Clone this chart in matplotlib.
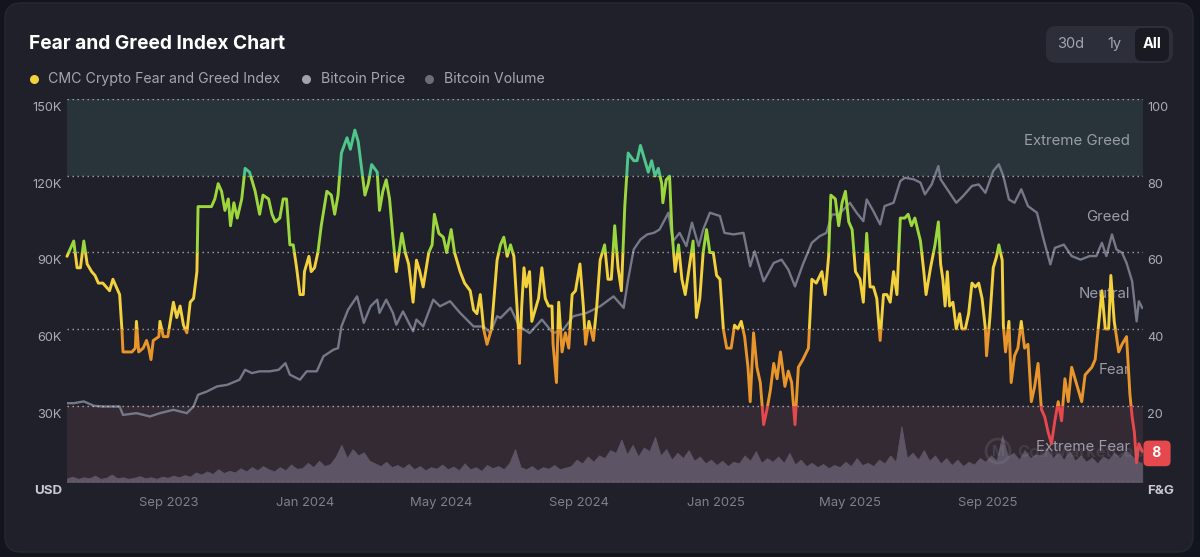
import numpy as np
import pandas as pd
import matplotlib
matplotlib.use("Agg")
import matplotlib.pyplot as plt
from matplotlib.patches import FancyBboxPatch, Rectangle, Circle
from matplotlib.lines import Line2D
from matplotlib.transforms import blended_transform_factory, offset_copy

plt.rcParams['font.family'] = ['Inter', 'DejaVu Sans']

# ---- data ----
START = pd.Timestamp('2023-06-02')
END_DAY = 960.7

fg_days = [0, 3, 6, 9, 12, 15, 18, 22, 25, 28, 32, 35, 38, 41, 44, 47, 49, 50, 53, 58,
           61, 62, 64, 68, 71, 73, 75, 77, 82, 83, 86, 90, 95, 98, 101, 104, 107, 110, 113, 116,
           117, 120, 125, 129, 132, 135, 138, 141, 144, 146, 149, 152, 156, 159, 163, 168, 172, 175, 180, 183,
           186, 190, 193, 196, 199, 202, 205, 208, 211, 212, 216, 218, 221, 224, 227, 232, 236, 239, 242, 245,
           250, 253, 257, 260, 263, 266, 269, 272, 277, 279, 282, 285, 288, 291, 294, 299, 302, 305, 309, 312,
           315, 318, 323, 326, 328, 332, 336, 339, 343, 346, 351, 355, 360, 363, 366, 369, 372, 375, 379, 384,
           387, 390, 393, 396, 399, 403, 404, 406, 408, 410, 413, 415, 418, 421, 424, 427, 430, 433, 434, 437,
           439, 442, 445, 448, 451, 454, 458, 461, 463, 466, 470, 473, 476, 480, 483, 486, 489, 492, 495, 498,
           501, 506, 509, 512, 516, 519, 522, 525, 528, 531, 532, 535, 538, 540, 543, 546, 549, 552, 555, 559,
           562, 565, 568, 571, 574, 577, 580, 583, 586, 589, 593, 596, 599, 602, 605, 608, 610, 613, 616, 619,
           622, 625, 628, 631, 634, 637, 641, 644, 647, 650, 653, 657, 662, 665, 669, 674, 677, 680, 682, 686,
           689, 692, 695, 698, 701, 704, 708, 711, 714, 717, 720, 723, 726, 729, 732, 735, 738, 741, 744, 748,
           751, 754, 757, 762, 765, 767, 771, 775, 778, 780, 782, 784, 786, 788, 791, 794, 797, 799, 802, 805,
           808, 811, 814, 817, 820, 821, 824, 827, 830, 832, 835, 836, 838, 841, 843, 846, 849, 852, 855, 858,
           861, 864, 867, 870, 873, 876, 879, 882, 885, 888, 891, 894, 897, 900, 903, 906, 909, 912, 915, 918,
           921, 924, 927, 930, 932, 935, 939, 942, 946, 949, 951, 953, 955, 957, 960]
fg_values = [59, 61, 63, 56, 56, 63, 57, 55, 54, 52, 52, 51, 50, 53, 51, 49, 40, 34, 34, 34,
             35, 42, 34, 35, 37, 35, 32, 37, 38, 42, 38, 38, 47, 43, 46, 41, 39, 47, 48, 55,
             72, 72, 72, 72, 74, 78, 76, 71, 74, 67, 73, 69, 74, 82, 81, 76, 70, 75, 74, 70,
             68, 69, 74, 74, 62, 62, 56, 49, 49, 55, 59, 55, 56, 60, 67, 76, 75, 70, 75, 86,
             90, 87, 92, 89, 82, 75, 78, 83, 81, 71, 76, 79, 74, 64, 55, 65, 60, 57, 47, 58,
             55, 51, 60, 62, 70, 65, 64, 60, 66, 60, 55, 52, 50, 45, 44, 49, 40, 36, 40, 58,
             62, 64, 59, 62, 59, 40, 31, 46, 56, 51, 55, 42, 45, 48, 56, 48, 46, 46, 36, 26,
             47, 34, 39, 35, 49, 50, 57, 46, 36, 42, 37, 46, 58, 62, 53, 53, 67, 56, 50, 72,
             86, 84, 84, 88, 84, 81, 84, 80, 82, 78, 73, 79, 80, 66, 55, 62, 53, 49, 55, 63,
             43, 48, 60, 66, 60, 60, 54, 53, 40, 35, 35, 41, 40, 42, 38, 30, 21, 39, 30, 26,
             15, 19, 24, 31, 27, 34, 25, 29, 26, 15, 30, 32, 35, 53, 52, 55, 49, 59, 75, 74,
             67, 73, 76, 68, 66, 55, 53, 47, 65, 51, 51, 48, 37, 49, 49, 47, 55, 49, 69, 69,
             70, 67, 69, 63, 55, 49, 56, 62, 68, 57, 53, 46, 55, 46, 47, 40, 44, 40, 40, 44,
             52, 51, 52, 48, 40, 33, 43, 56, 59, 62, 58, 41, 34, 42, 26, 33, 35, 42, 35, 36,
             21, 25, 31, 19, 17, 13, 10, 16, 21, 16, 27, 21, 30, 27, 24, 21, 28, 29, 30, 32,
             41, 50, 40, 40, 54, 42, 34, 36, 38, 23, 17, 13, 5, 10, 8]

price_days = [0, 6, 15, 24, 32, 47, 50, 62, 74, 83, 95, 107, 113, 117, 125, 134, 143, 154, 159, 165,
              172, 181, 189, 195, 199, 208, 214, 223, 229, 238, 242, 245, 251, 259, 265, 271, 277, 279, 285, 291,
              294, 300, 309, 312, 318, 327, 333, 342, 351, 363, 372, 378, 384, 387, 396, 404, 413, 424, 434, 443,
              452, 464, 476, 488, 497, 501, 506, 512, 518, 524, 529, 537, 541, 547, 553, 558, 564, 568, 574, 583,
              587, 595, 604, 610, 614, 622, 631, 638, 644, 650, 657, 665, 672, 678, 683, 689, 695, 699, 705, 711,
              714, 720, 726, 730, 738, 744, 748, 756, 762, 766, 772, 778, 780, 785, 790, 794, 800, 808, 814, 820,
              827, 832, 836, 841, 846, 852, 858, 866, 872, 878, 882, 890, 897, 905, 913, 919, 924, 928, 933, 937,
              942, 946, 951, 955, 957, 960]
price_k = [30.9, 30.9, 31.6, 29.9, 29.6, 29.6, 26.3, 27.0, 25.7, 27.0, 28.3, 27.0, 29.6, 34.2, 35.5, 37.5, 38.1, 40.1, 44.0, 42.7,
           43.4, 43.4, 44.0, 46.6, 42.1, 40.1, 43.4, 43.4, 49.3, 51.9, 52.5, 61.0, 67.6, 72.8, 62.4, 68.9, 71.5, 66.3, 71.5, 66.3,
           61.7, 66.9, 59.1, 63.7, 61.0, 71.5, 68.9, 70.9, 66.3, 61.0, 61.0, 58.4, 65.0, 64.3, 68.3, 61.0, 58.4, 63.7, 58.4, 59.7,
           65.0, 66.3, 68.9, 72.8, 68.3, 79.4, 91.2, 95.1, 97.1, 97.7, 99.0, 105.6, 94.4, 97.7, 92.5, 101.7, 92.5, 99.0, 105.6, 104.3,
           97.7, 97.1, 97.7, 84.6, 90.5, 78.7, 85.9, 87.2, 83.3, 76.7, 85.3, 93.8, 96.4, 97.7, 104.9, 104.9, 107.6, 109.5, 105.6, 102.3,
           110.8, 106.2, 101.0, 108.2, 109.5, 118.0, 119.3, 118.7, 117.4, 112.8, 116.7, 123.9, 118.7, 115.4, 112.1, 109.5, 112.1, 116.1, 116.7, 113.4,
           122.0, 124.6, 120.0, 110.8, 109.5, 114.8, 108.2, 105.6, 95.1, 85.3, 91.8, 93.1, 88.6, 87.2, 88.6, 88.6, 93.8, 88.6, 97.1, 91.2,
           89.9, 85.9, 78.7, 63.0, 70.9, 68.3]

# volume in $B, one value every 5 days from START
vol_step = 5
vol_b = [7, 10, 6, 9, 7, 12, 6, 8, 14, 7, 9, 6, 8, 11, 7, 9, 6, 10,
         8, 12, 9, 13, 10, 18, 14, 20, 15, 24, 17, 21, 18, 26, 20, 28, 22, 30,
         24, 20, 28, 22, 33, 25, 26, 36, 28, 40, 30, 34, 48, 70, 45, 62, 50, 56,
         40, 35, 30, 38, 28, 32, 26, 34, 24, 30, 22, 28, 25, 33, 24, 29, 22, 35,
         24, 28, 21, 32, 26, 30, 24, 36, 62, 28, 24, 30, 22, 28, 25, 32, 24, 27,
         30, 42, 35, 48, 38, 50, 45, 60, 55, 80, 52, 70, 48, 65, 58, 85, 50, 62,
         42, 55, 45, 60, 40, 48, 35, 42, 32, 40, 30, 38, 35, 50, 40, 58, 36, 45,
         38, 48, 36, 55, 33, 42, 30, 36, 28, 34, 26, 32, 28, 38, 30, 45, 32, 36,
         30, 42, 35, 50, 38, 105, 45, 55, 42, 60, 40, 50, 35, 45, 32, 42, 30, 38,
         33, 45, 38, 50, 40, 88, 48, 55, 42, 60, 45, 52, 50, 62, 45, 55, 42, 58,
         40, 50, 38, 46, 35, 48, 42, 55, 45, 60, 50, 40, 35]

month_ticks = ['2023-09-01', '2024-01-01', '2024-05-01', '2024-09-01',
               '2025-01-01', '2025-05-01', '2025-09-01']
month_labels = ['Sep 2023', 'Jan 2024', 'May 2024', 'Sep 2024',
                'Jan 2025', 'May 2025', 'Sep 2025']
price_ticks = [0, 30, 60, 90, 120, 150]
price_labels = ['USD', '30K', '60K', '90K', '120K', '150K']
fg_ticks = [0, 20, 40, 60, 80, 100]
fg_labels = ['F&G', '20', '40', '60', '80', '100']
zone_names = ['Extreme Greed', 'Greed', 'Neutral', 'Fear', 'Extreme Fear']
zone_mid = [90, 70, 50, 30, 10]

# ---- colours ----
OUTER = '#13151c'
CARD = '#1f2029'
GREED_BAND = '#29343a'
FEAR_BAND = '#342a33'
RED = '#e5484d'
ORANGE = '#e8962b'
YELLOW = '#f2d13d'
GREEN = '#9cd83d'
TEAL = '#4fc68c'
PRICE_C = '#747888'
VOL_C = '#5d5566'
TEXT_DIM = '#7d808d'
TEXT_MID = '#a3a6b1'

fg_dates = START + pd.to_timedelta(fg_days, unit='D')
price_dates = START + pd.to_timedelta(price_days, unit='D')
vol_dates = START + pd.to_timedelta(np.arange(len(vol_b)) * vol_step, unit='D')

W, H = 1200, 557
fig = plt.figure(figsize=(W / 100, H / 100), dpi=100)
fig.patch.set_facecolor(OUTER)
inch = fig.dpi_scale_trans


def px(x, y):
    # pixel position (from top-left) -> inches from bottom-left
    return x / 100, (H - y) / 100


card = FancyBboxPatch(px(5, 552), 11.88, 5.49, boxstyle='round,pad=0,rounding_size=0.16',
                      transform=inch, fc=CARD, ec='#262833', lw=1, zorder=-5)
fig.add_artist(card)

# title + legend
fig.text(*px(29, 44), 'Fear and Greed Index Chart', transform=inch, fontsize=13.8,
         fontweight='bold', color='white', va='center')
legend = [(34, 48, YELLOW, 'CMC Crypto Fear and Greed Index'),
          (306, 321, '#a0a3ae', 'Bitcoin Price'),
          (429, 444, '#6a6d79', 'Bitcoin Volume')]
for dx, tx, c, lab in legend:
    fig.add_artist(Line2D([px(dx, 79)[0]], [px(dx, 79)[1]], transform=inch, marker='o',
                          ms=6.5, mfc=c, mec='none', ls='none'))
    fig.text(*px(tx, 79), lab, transform=inch, fontsize=10.2, color=TEXT_MID, va='center')

# range buttons
fig.add_artist(FancyBboxPatch(px(1046, 63), 1.27, 0.37, boxstyle='round,pad=0,rounding_size=0.1',
                              transform=inch, fc='#2c2e39', ec='none'))
fig.add_artist(FancyBboxPatch(px(1135, 61), 0.34, 0.33, boxstyle='round,pad=0,rounding_size=0.07',
                              transform=inch, fc='#1a1b22', ec='none'))
fig.text(*px(1071, 44), '30d', transform=inch, fontsize=10.5, color=TEXT_MID, ha='center', va='center')
fig.text(*px(1114, 44), '1y', transform=inch, fontsize=10.5, color=TEXT_MID, ha='center', va='center')
fig.text(*px(1152, 44), 'All', transform=inch, fontsize=10.5, color='white', fontweight='bold',
         ha='center', va='center')

# ---- axes stack ----
rect = [67 / W, (H - 482) / H, (1143 - 67) / W, (482 - 99.5) / H]
ax = fig.add_axes(rect)
ax.set_facecolor(CARD)
axv = ax.twinx()
axp = ax.twinx()
axf = ax.twinx()
for i, a in enumerate([ax, axv, axp, axf]):
    a.set_zorder(i)
    for s in a.spines.values():
        s.set_visible(False)
    a.set_yticks([])
    a.tick_params(length=0)

x0, x1 = START, START + pd.Timedelta(days=END_DAY)
ax.set_xlim(x0, x1)
ax.set_ylim(0, 100)
axf.set_ylim(0, 100)
axp.set_ylim(0, 150)
axv.set_ylim(0, 720)

ax.axhspan(80, 100, color=GREED_BAND, lw=0)
ax.axhspan(0, 20, color=FEAR_BAND, lw=0)

# volume
axv.fill_between(vol_dates, 0, vol_b, color=VOL_C, lw=0.6, ec=VOL_C)

# price
axp.plot(price_dates, price_k, color=PRICE_C, lw=1.7, solid_joinstyle='round')

# gridlines
for v in fg_ticks:
    axf.axhline(v, color='white', alpha=0.6, lw=1, ls=(0, (1, 2.6)), zorder=1)

# zone labels
right_off = offset_copy(blended_transform_factory(axf.transAxes, axf.transData), fig=fig,
                        x=-13, y=-3, units='dots')
for name, v in zip(zone_names, zone_mid):
    axf.text(1, v, name, transform=right_off, ha='right', va='center', fontsize=10.8,
             color='#9a9da9', zorder=1.5)

# watermark
wm = blended_transform_factory(axf.transAxes, axf.transData)
fig.add_artist(Circle(px(998, 451), 0.12, transform=inch, fc='none', ec='#8a8d99',
                      lw=2, alpha=0.22, zorder=3.5))
fig.text(*px(998, 452), 'M', transform=inch, fontsize=10, fontweight='bold', color='#8a8d99',
         alpha=0.22, ha='center', va='center', zorder=3.5)
fig.text(*px(1017, 452), 'CoinMarketCap', transform=inch, fontsize=12, fontweight='bold',
         color='#8a8d99', alpha=0.18, va='center', zorder=3.5)

# F&G line, coloured by sentiment band
bands = [(-20, 20, RED), (20, 40, ORANGE), (40, 60, YELLOW), (60, 80, GREEN), (80, 120, TEAL)]
for lo, hi, c in bands:
    ln, = axf.plot(fg_dates, fg_values, color=c, lw=2.1, zorder=3, solid_joinstyle='round',
                   solid_capstyle='round')
    clip = Rectangle((-0.01, lo), 1.02, hi - lo, transform=wm)
    ln.set_clip_path(clip)

# current value badge
badge_t = offset_copy(wm, fig=fig, x=14, y=-2, units='dots')
axf.text(1, fg_values[-1], ' 8 ', transform=badge_t, ha='center', va='center', fontsize=10,
         fontweight='bold', color='white', zorder=6, clip_on=False,
         bbox=dict(boxstyle='round,pad=0.42,rounding_size=0.35', fc=RED, ec='none'))

# y labels
left_t = offset_copy(blended_transform_factory(axp.transAxes, axp.transData), fig=fig,
                     x=-5, y=-9, units='dots')
for v, lab in zip(price_ticks, price_labels):
    bold = lab == 'USD'
    axp.text(0, v, lab, transform=left_t, ha='right', va='center', clip_on=False,
             fontsize=9.6 if bold else 9.2, fontweight='bold' if bold else 'normal',
             color='#c9cbd3' if bold else '#a9acb6')
right_t = offset_copy(blended_transform_factory(axf.transAxes, axf.transData), fig=fig,
                      x=4, y=-9, units='dots')
for v, lab in zip(fg_ticks, fg_labels):
    bold = lab == 'F&G'
    axf.text(1, v, lab, transform=right_t, ha='left', va='center', clip_on=False,
             fontsize=9.6 if bold else 9.2, fontweight='bold' if bold else 'normal',
             color='#c9cbd3' if bold else '#a9acb6')

# month ticks
ax.set_xticks(pd.to_datetime(month_ticks))
ax.set_xticklabels(month_labels)
ax.tick_params(axis='x', length=0, pad=11, labelsize=9.4, labelcolor=TEXT_DIM)

fig.savefig('out.png', dpi=100, facecolor=OUTER)
